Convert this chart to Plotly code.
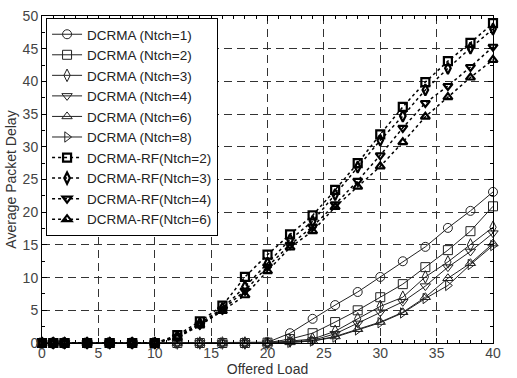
import plotly.graph_objects as go

x = [0, 1, 2, 4, 6, 8, 10, 12, 14, 16, 18, 20, 22, 24, 26, 28, 30, 32, 34, 36, 38, 40]

dcrma_1 = [0, 0, 0, 0, 0, 0, 0, 0, 0, 0, 0, 0.1, 1.5, 3.7, 5.8, 7.8, 10.1, 12.5, 14.7, 17.6, 20.2, 23.1]
dcrma_2 = [0, 0, 0, 0, 0, 0, 0, 0, 0, 0, 0, 0.05, 0.6, 1.5, 3.2, 5.0, 7.0, 9.0, 11.6, 14.2, 17.1, 20.9]
dcrma_3 = [0, 0, 0, 0, 0, 0, 0, 0, 0, 0, 0, 0, 0.3, 0.6, 1.8, 3.7, 5.6, 7.0, 10.1, 12.4, 15.0, 17.7]
dcrma_4 = [0, 0, 0, 0, 0, 0, 0, 0, 0, 0, 0, 0, 0.2, 0.4, 1.4, 3.0, 4.7, 6.3, 8.7, 11.6, 14.0, 16.8]
dcrma_6 = [0, 0, 0, 0, 0, 0, 0, 0, 0, 0, 0, 0, 0.1, 0.3, 1.0, 2.1, 3.2, 4.7, 7.0, 9.9, 12.2, 15.2]
dcrma_8 = [0, 0, 0, 0, 0, 0, 0, 0, 0, 0, 0, 0, 0.1, 0.3, 0.9, 2.0, 3.1, 4.6, 6.8, 8.8, 12.0, 14.9]

rf_2 = [0, 0, 0, 0, 0, 0, 0, 1.2, 3.3, 5.7, 10.1, 13.5, 16.6, 19.5, 23.4, 27.5, 31.9, 36.1, 39.9, 43.1, 45.9, 48.9]
rf_3 = [0, 0, 0, 0, 0, 0, 0, 1.0, 3.0, 5.3, 8.6, 12.2, 15.8, 18.6, 22.7, 26.9, 31.0, 34.7, 38.7, 42.0, 45.1, 48.0]
rf_4 = [0, 0, 0, 0, 0, 0, 0, 0.9, 2.8, 5.1, 8.0, 11.7, 15.0, 17.8, 21.2, 24.8, 28.7, 32.9, 36.7, 39.3, 42.2, 45.3]
rf_6 = [0, 0, 0, 0, 0, 0, 0, 0.8, 2.7, 4.9, 7.3, 11.0, 14.6, 17.1, 20.8, 23.9, 27.0, 30.7, 34.6, 37.6, 40.6, 43.3]

solid_series = [
    ("DCRMA (Ntch=1)", dcrma_1, "circle-open"),
    ("DCRMA (Ntch=2)", dcrma_2, "square-open"),
    ("DCRMA (Ntch=3)", dcrma_3, "diamond-tall-open"),
    ("DCRMA (Ntch=4)", dcrma_4, "triangle-down-open"),
    ("DCRMA (Ntch=6)", dcrma_6, "triangle-up-open"),
    ("DCRMA (Ntch=8)", dcrma_8, "triangle-right-open"),
]
rf_series = [
    ("DCRMA-RF(Ntch=2)", rf_2, "square-open"),
    ("DCRMA-RF(Ntch=3)", rf_3, "diamond-tall-open"),
    ("DCRMA-RF(Ntch=4)", rf_4, "triangle-down-open"),
    ("DCRMA-RF(Ntch=6)", rf_6, "triangle-up-open"),
]

fig = go.Figure()
for name, ys, sym in solid_series:
    fig.add_trace(go.Scatter(
        x=x, y=ys, name=name, mode="lines+markers", cliponaxis=False,
        line=dict(color="#222222", width=1),
        marker=dict(symbol=sym, size=9, color="#222222", line=dict(width=1, color="#222222")),
    ))
for name, ys, sym in rf_series:
    fig.add_trace(go.Scatter(
        x=x, y=ys, name=name, mode="lines+markers", cliponaxis=False,
        line=dict(color="#000000", width=1.5, dash="dot"),
        marker=dict(symbol=sym, size=8, color="#000000", line=dict(width=2.2, color="#000000")),
    ))

axis_common = dict(
    showgrid=True, gridcolor="#333333", gridwidth=1, griddash="8px,5px",
    zeroline=False, showline=True, linecolor="#000000", linewidth=1,
    mirror="allticks", ticks="inside", ticklen=5, tickcolor="#000000",
    tickfont=dict(family="Liberation Sans, Arial", size=14, color="#444444"),
    automargin=False,
)

fig.update_layout(
    width=517, height=378,
    margin=dict(l=42, r=24, t=16, b=35),
    paper_bgcolor="white", plot_bgcolor="white",
    font=dict(family="Liberation Sans, Arial", size=14, color="#333333"),
    showlegend=True,
    legend=dict(
        x=0.009, y=0.994, xanchor="left", yanchor="top",
        bgcolor="white", bordercolor="#000000", borderwidth=1,
        font=dict(family="Liberation Sans, Arial", size=13.5, color="#222222"),
        tracegroupgap=0, itemwidth=30,
    ),
    xaxis=dict(
        range=[0, 40], dtick=5, tick0=0, ticklabelstandoff=-3,
        title=dict(text="Offered Load", standoff=0, font=dict(size=14)),
        minor=dict(dtick=1, ticks="inside", ticklen=3, tickcolor="#000000", showgrid=False),
        **axis_common,
    ),
    yaxis=dict(
        range=[0, 50], dtick=5, tick0=0,
        title=dict(text="Average Packet Delay", standoff=2, font=dict(size=14)),
        minor=dict(dtick=2.5, ticks="inside", ticklen=3, tickcolor="#000000", showgrid=False),
        **axis_common,
    ),
)

fig.write_html("out.html")
